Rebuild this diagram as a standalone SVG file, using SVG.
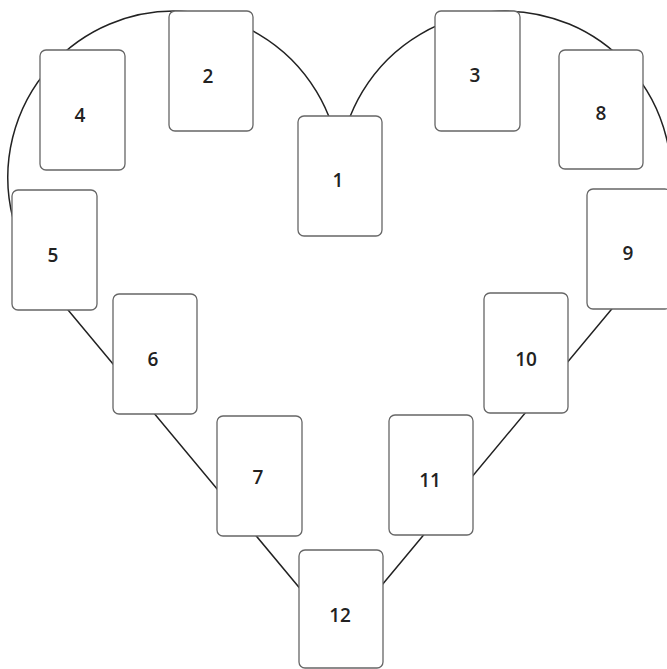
<svg xmlns="http://www.w3.org/2000/svg" width="667" height="669" viewBox="0 0 667 669">
<style>
.card{fill:#fff;stroke:#666;stroke-width:1.3}
.lbl{font-family:"Open Sans","Noto Sans",sans-serif;font-size:19px;font-weight:600;fill:#222;text-anchor:middle}
.heart{fill:none;stroke:#222;stroke-width:1.5}
</style>
<rect width="667" height="669" fill="#fff"/>
<g id="connectors">
<path class="heart" d="M339.5,636 L45.8,283.2 A166.3,166.3 0 1 1 339.5,160 A166.3,166.3 0 1 1 633.2,283.2 Z"/>
</g>
<g id="card1"><rect class="card" x="298" y="116" width="84" height="120" rx="6"/><text class="lbl" x="338" y="187">1</text></g>
<g id="card2"><rect class="card" x="169" y="11" width="84" height="120" rx="6"/><text class="lbl" x="208" y="83">2</text></g>
<g id="card3"><rect class="card" x="435" y="11" width="85" height="120" rx="6"/><text class="lbl" x="475" y="82">3</text></g>
<g id="card4"><rect class="card" x="40" y="50" width="85" height="120" rx="6"/><text class="lbl" x="80" y="122">4</text></g>
<g id="card5"><rect class="card" x="12" y="190" width="85" height="120" rx="6"/><text class="lbl" x="53" y="262">5</text></g>
<g id="card6"><rect class="card" x="113" y="294" width="84" height="120" rx="6"/><text class="lbl" x="153" y="366">6</text></g>
<g id="card7"><rect class="card" x="217" y="416" width="85" height="120" rx="6"/><text class="lbl" x="258" y="484">7</text></g>
<g id="card8"><rect class="card" x="559" y="50" width="84" height="119" rx="6"/><text class="lbl" x="601" y="120">8</text></g>
<g id="card9"><rect class="card" x="587" y="189" width="84" height="120" rx="6"/><text class="lbl" x="628" y="260">9</text></g>
<g id="card10"><rect class="card" x="484" y="293" width="84" height="120" rx="6"/><text class="lbl" x="526" y="366">10</text></g>
<g id="card11"><rect class="card" x="389" y="415" width="84" height="120" rx="6"/><text class="lbl" x="430" y="487">11</text></g>
<g id="card12"><rect class="card" x="299" y="550" width="84" height="118" rx="6"/><text class="lbl" x="340" y="622">12</text></g>
</svg>
